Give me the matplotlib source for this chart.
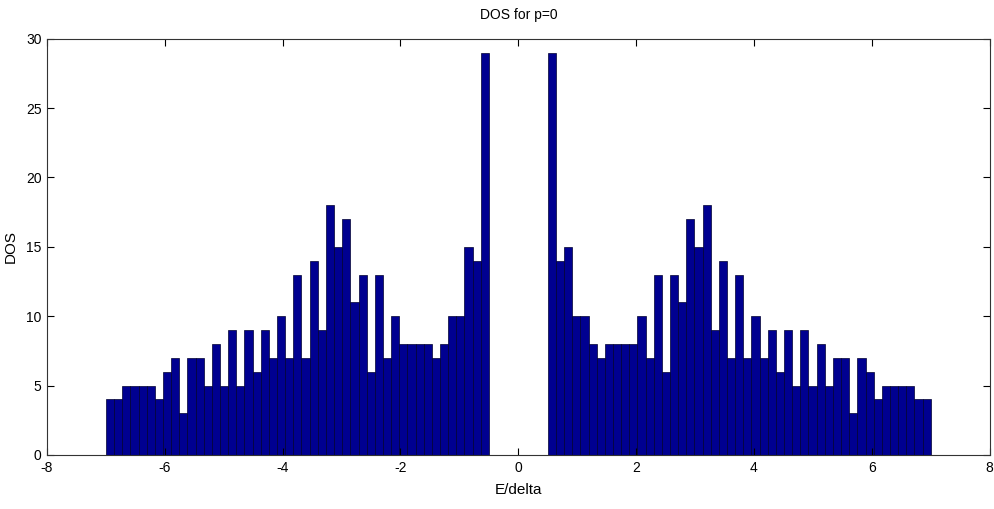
import numpy as np
import matplotlib
matplotlib.use("Agg")
import matplotlib.pyplot as plt

# DOS counts for positive energies, bins from E=0.5 up to E=7 (mirror image for E<0)
dos_pos = [29, 14, 15, 10, 10, 8, 7, 8, 8, 8, 8, 10, 7, 13, 6, 13, 11, 17, 15, 18,
           9, 14, 7, 13, 7, 10, 7, 9, 6, 9, 5, 9, 5, 8, 5, 7, 7, 3, 7, 6,
           4, 5, 5, 5, 5, 4, 4]
e_min = 0.5
e_max = 7.0

x_ticks = [-8, -6, -4, -2, 0, 2, 4, 6, 8]
y_ticks = [0, 5, 10, 15, 20, 25, 30]

plt.rcParams['font.family'] = ['Liberation Sans', 'DejaVu Sans']
plt.rcParams['axes.unicode_minus'] = False

# bin edges for both halves
edges_pos = np.linspace(e_min, e_max, len(dos_pos) + 1)
edges_neg = -edges_pos[::-1]
counts_neg = dos_pos[::-1]

fig = plt.figure(figsize=(9.94, 5.09), dpi=100)
ax = fig.add_axes([0.0473, 0.1061, 0.9483, 0.8179])

for edges, counts in ((edges_neg, counts_neg), (edges_pos, dos_pos)):
    ax.bar(edges[:-1], counts, width=np.diff(edges), align='edge',
           color='#000090', edgecolor='#000030', linewidth=0.5)

ax.set_xlim(-8, 8)
ax.set_ylim(0, 30)
ax.set_xticks(x_ticks)
ax.set_yticks(y_ticks)
ax.tick_params(direction='in', top=True, right=True, length=5, width=0.8,
               labelsize=10, pad=4)
for s in ax.spines.values():
    s.set_linewidth(0.8)
    s.set_color('#333333')

ax.set_title("DOS for p=0", fontsize=10, pad=14)
ax.set_xlabel("E/delta", fontsize=11, labelpad=6)
ax.set_ylabel("DOS", fontsize=11, labelpad=6)

fig.savefig("out.png", dpi=100)
